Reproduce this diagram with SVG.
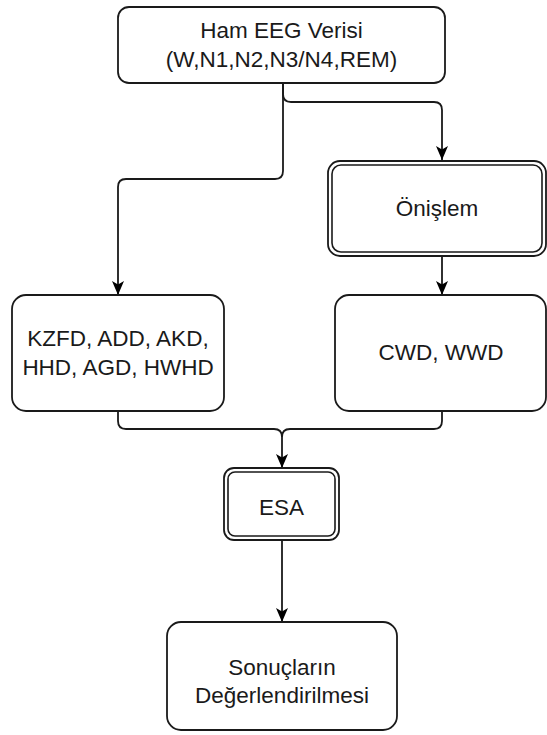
<svg xmlns="http://www.w3.org/2000/svg" width="547" height="735" viewBox="0 0 547 735">
  <style>
    .box { fill: #ffffff; stroke: #1a1a1a; stroke-width: 1.8; }
    .inner { fill: none; stroke: #1a1a1a; stroke-width: 1.6; }
    .label { font-family: "Liberation Sans", Arial, sans-serif; font-size: 22.5px; fill: #1a1a1a; text-anchor: middle; }
    .edge { fill: none; stroke: #1a1a1a; stroke-width: 1.8; }
  </style>
  <defs>
    <marker id="arrow" markerUnits="userSpaceOnUse" markerWidth="16" markerHeight="16" viewBox="0 0 16 16" refX="15" refY="8" orient="auto">
      <path d="M1,2 L15,8 L1,14 L4.5,8 Z" fill="#000000"/>
    </marker>
  </defs>
  <rect width="547" height="735" fill="#ffffff"/>

  <!-- connectors -->
  <g id="connectors">
    <path class="edge" d="M283,83 V94 Q283,102 291,102 H434 Q442,102 442,110 V160" marker-end="url(#arrow)"/>
    <path class="edge" d="M283,83 V171 Q283,179 275,179 H126 Q118,179 118,187 V295" marker-end="url(#arrow)"/>
    <path class="edge" d="M442,256 V295" marker-end="url(#arrow)"/>
    <path class="edge" d="M118,411 V421 Q118,429 126,429 H274 Q282,429 282,437 V468" marker-end="url(#arrow)"/>
    <path class="edge" d="M442,411 V421 Q442,429 434,429 H290 Q282,429 282,437"/>
    <path class="edge" d="M282,540 V622" marker-end="url(#arrow)"/>
  </g>

  <!-- raw data -->
  <g id="node-raw">
    <rect class="box" x="118" y="7" width="327" height="76" rx="11"/>
    <text class="label" x="281.5" y="38">Ham EEG Verisi</text>
    <text class="label" x="281.5" y="67">(W,N1,N2,N3/N4,REM)</text>
  </g>

  <!-- preprocessing -->
  <g id="node-preprocess">
    <rect class="box" x="328" y="161" width="218" height="95" rx="12"/>
    <rect class="inner" x="332" y="165" width="210" height="87" rx="9"/>
    <text class="label" x="437" y="216">Önişlem</text>
  </g>

  <!-- feature set A -->
  <g id="node-features-a">
    <rect class="box" x="12" y="295" width="212" height="116" rx="14"/>
    <text class="label" x="118" y="346">KZFD, ADD, AKD,</text>
    <text class="label" x="118" y="375">HHD, AGD, HWHD</text>
  </g>

  <!-- feature set B -->
  <g id="node-features-b">
    <rect class="box" x="335" y="295" width="211" height="116" rx="14"/>
    <text class="label" x="441" y="360">CWD, WWD</text>
  </g>

  <!-- ESA -->
  <g id="node-esa">
    <rect class="box" x="224" y="468" width="115" height="72" rx="10"/>
    <rect class="inner" x="228" y="472" width="107" height="64" rx="7"/>
    <text class="label" x="281.5" y="515">ESA</text>
  </g>

  <!-- evaluation -->
  <g id="node-evaluation">
    <rect class="box" x="167" y="622" width="230" height="108" rx="14"/>
    <text class="label" x="282" y="675">Sonuçların</text>
    <text class="label" x="282" y="703">Değerlendirilmesi</text>
  </g>
</svg>
